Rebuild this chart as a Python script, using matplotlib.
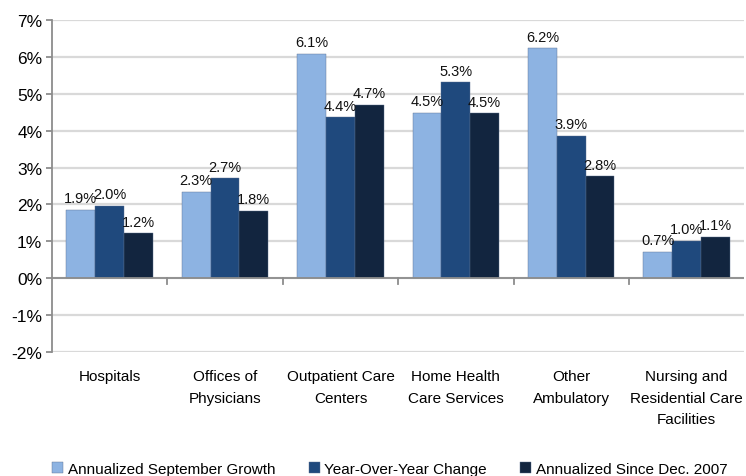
import numpy as np
import matplotlib.pyplot as plt

plt.rcParams['font.family'] = ['Liberation Sans', 'DejaVu Sans']

categories = ['Hospitals', 'Offices of\nPhysicians', 'Outpatient Care\nCenters',
              'Home Health\nCare Services', 'Other\nAmbulatory',
              'Nursing and\nResidential Care\nFacilities']
series_names = ['Annualized September Growth', 'Year-Over-Year Change',
                'Annualized Since Dec. 2007']
sept_growth = [1.86, 2.34, 6.08, 4.49, 6.24, 0.72]
yoy_change = [1.97, 2.71, 4.36, 5.31, 3.86, 1.02]
since_2007 = [1.22, 1.83, 4.70, 4.48, 2.77, 1.12]
colors = ['#8DB3E2', '#1F497D', '#12253F']

fig = plt.figure(figsize=(7.46, 4.77), dpi=100)
ax = fig.add_axes([0.0697, 0.26, 0.928, 0.696])

x = np.arange(len(categories))
w = 0.25
for i, (vals, name, c) in enumerate(zip([sept_growth, yoy_change, since_2007],
                                        series_names, colors)):
    xs = x + (i - 1) * w
    ax.bar(xs, vals, w, color=c, edgecolor='#5A6E8C', linewidth=0.3,
           label=name, zorder=3)
    for xi, v in zip(xs, vals):
        ax.text(xi, v + 0.12, '%.1f%%' % v, ha='center', va='bottom',
                fontsize=10.5, color='#111111', zorder=4)

ax.set_xlim(-0.5, len(categories) - 0.5)
ax.set_ylim(-2, 7)
ax.set_yticks(range(-2, 8))
ax.set_yticklabels(['%d%%' % t for t in range(-2, 8)], fontsize=12.5)
ax.grid(axis='y', color='#D9D9D9', linewidth=1.6, zorder=0)
ax.set_axisbelow(True)

for s in ['top', 'right', 'bottom']:
    ax.spines[s].set_visible(False)
ax.spines['left'].set_color('#8C8C8C')
ax.spines['left'].set_linewidth(1.3)
ax.tick_params(axis='y', color='#8C8C8C', length=4, width=1.3, pad=3)

# zero line with category separators
ax.axhline(0, color='#8C8C8C', linewidth=1.3, zorder=5)
for b in np.arange(0.5, len(categories) - 0.5):
    ax.plot([b, b], [0, -0.17], color='#8C8C8C', linewidth=1.3, zorder=5,
            clip_on=False)

ax.set_xticks(x)
ax.set_xticklabels(categories, fontsize=11, linespacing=1.72)
ax.tick_params(axis='x', length=0, pad=12)

leg = ax.legend(loc='upper center', bbox_to_anchor=(0.488, -0.29), ncol=3,
                frameon=False, fontsize=11, handlelength=0.7,
                handleheight=0.7, handletextpad=0.3, columnspacing=2.2)

fig.savefig('out.png', dpi=100)
